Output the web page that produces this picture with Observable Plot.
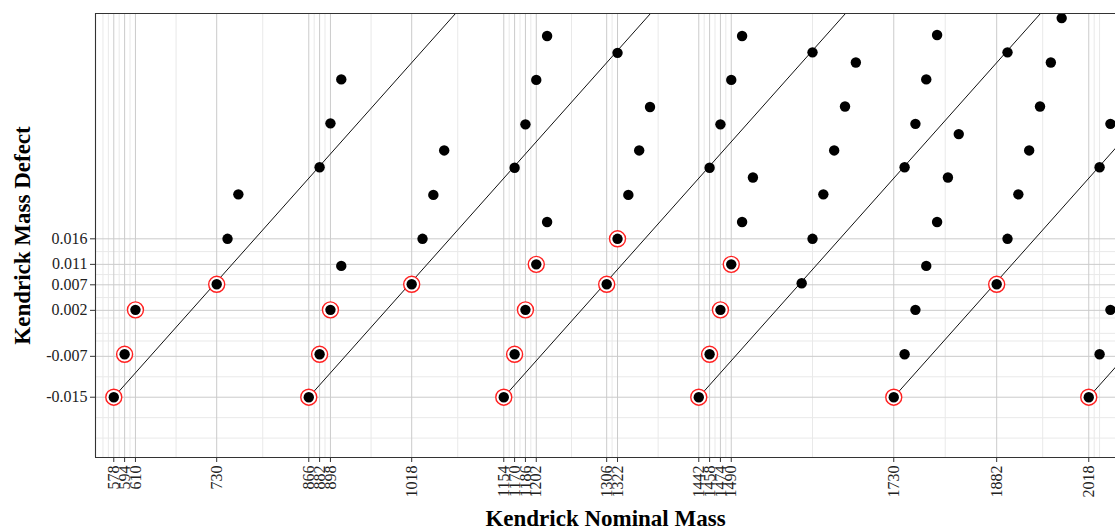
<!DOCTYPE html>
<html>
<head>
<meta charset="utf-8">
<script src="https://cdn.jsdelivr.net/npm/d3@7"></script>
<script src="https://cdn.jsdelivr.net/npm/@observablehq/plot@0.6"></script>
<style>
  html, body { margin: 0; padding: 0; background: #fff; }
  #chart svg { display: block; }
</style>
</head>
<body>
<div id="chart"></div>
<script>
// Highlighted (red-circled) compounds: nominal mass and Kendrick mass defect
const redMass = [578, 594, 610, 730, 866, 882, 898, 1018, 1154, 1170, 1186, 1202, 1306, 1322, 1442, 1458, 1474, 1490, 1730, 1882, 2018];
const redKmd  = [-0.015, -0.0066, 0.0021, 0.0071, -0.015, -0.0066, 0.0021, 0.0071, -0.015, -0.0066, 0.0021, 0.011, 0.0071, 0.016, -0.015, -0.0066, 0.0021, 0.011, -0.015, 0.0071, -0.015];

// Other compounds (black dots only)
const otherMass = [746, 762, 882, 898, 914, 914, 1034, 1050, 1066, 1170, 1186, 1202, 1218, 1218, 1322, 1338, 1354, 1370,
  1458, 1474, 1490, 1506, 1506, 1522, 1594, 1610, 1610, 1626, 1642, 1658, 1674, 1746, 1746, 1762, 1762, 1778, 1778,
  1794, 1794, 1810, 1826, 1898, 1898, 1914, 1930, 1946, 1962, 1978, 2034, 2034, 2050, 2050];
const otherKmd = [0.016, 0.0247, 0.030, 0.0386, 0.0472, 0.0107, 0.016, 0.0246, 0.0333, 0.0299, 0.0384, 0.0471, 0.0557, 0.0193, 0.0524, 0.0246, 0.0333, 0.0418,
  0.0299, 0.0384, 0.0471, 0.0557, 0.0193, 0.0280, 0.0073, 0.016, 0.0525, 0.0247, 0.0333, 0.0419, 0.0505, -0.0066, 0.0300, 0.0021, 0.0385, 0.0107, 0.0472,
  0.0193, 0.0559, 0.0280, 0.0365, 0.016, 0.0525, 0.0247, 0.0333, 0.0419, 0.0505, 0.0592, -0.0066, 0.0300, 0.0021, 0.0385];

// Homologous-series lines: starting nominal mass, starting KMD, slope (KMD per mass unit)
const lineStartMass = [578, 866, 1154, 1442, 1730, 2018];
const lineStartKmd = [-0.015, -0.015, -0.015, -0.015, -0.015, -0.015];
const lineSlope = 0.0001488;
const lineSpan = 700;

// Axis ticks
const xTicks = [578, 594, 610, 730, 866, 882, 898, 1018, 1154, 1170, 1186, 1202, 1306, 1322, 1442, 1458, 1474, 1490, 1730, 1882, 2018];
const yTicks = [-0.015, -0.007, 0.002, 0.007, 0.011, 0.016];
const yTickLabels = ["-0.015", "-0.007", "0.002", "0.007", "0.011", "0.016"];
const xMinor = [562, 570, 586, 602, 670, 798, 874, 890, 958, 1086, 1162, 1178, 1194, 1254, 1314, 1382, 1450, 1466, 1482, 1610, 1806, 1950, 2026, 2034];
const yMinor = [-0.023, -0.019, -0.011, -0.004, -0.0025, 0.0005, 0.0045, 0.009, 0.0135];

const xDomain = [551, 2057.5];
const yDomain = [-0.0268, 0.0601];

const red = redMass.map((m, i) => ({mass: m, kmd: redKmd[i]}));
const others = otherMass.map((m, i) => ({mass: m, kmd: otherKmd[i]}));
const allPts = red.concat(others);
const lines = lineStartMass.map((m, i) => ({
  x1: m, y1: lineStartKmd[i],
  x2: m + lineSpan, y2: lineStartKmd[i] + lineSpan * lineSlope
}));

const chart = Plot.plot({
  width: 1115,
  height: 531,
  marginLeft: 95,
  marginRight: 0,
  marginTop: 13,
  marginBottom: 74,
  style: {fontFamily: "'Liberation Serif', 'Times New Roman', serif", fontSize: "16px", color: "#222", background: "#fff"},
  x: {domain: xDomain, label: null},
  y: {domain: yDomain, label: null},
  marks: [
    Plot.ruleX(xMinor, {stroke: "#e9e9e9", strokeWidth: 1}),
    Plot.ruleY(yMinor, {stroke: "#e9e9e9", strokeWidth: 1}),
    Plot.ruleX(xTicks, {stroke: "#cbcbcb", strokeWidth: 1}),
    Plot.ruleY(yTicks, {stroke: "#cbcbcb", strokeWidth: 1}),
    Plot.link(lines, {x1: "x1", y1: "y1", x2: "x2", y2: "y2", stroke: "#111", strokeWidth: 1, clip: true}),
    Plot.dot(red, {x: "mass", y: "kmd", r: 8, fill: "white", stroke: "#ff2020", strokeWidth: 1.4, clip: true}),
    Plot.dot(allPts, {x: "mass", y: "kmd", r: 5.2, fill: "black", stroke: "none", clip: true}),
    Plot.axisX({ticks: xTicks, tickFormat: d => String(d), tickSize: 5, tickRotate: -90, tickPadding: 3, fontSize: 16, stroke: "#333", label: null}),
    Plot.axisY({ticks: yTicks, tickFormat: (d, i) => yTickLabels[i], tickSize: 5, tickPadding: 3, fontSize: 16, stroke: "#333", label: null}),
    Plot.ruleX([xDomain[0]], {stroke: "#333", strokeWidth: 1.1}),
    Plot.ruleY([yDomain[0]], {stroke: "#333", strokeWidth: 1.1}),
    Plot.ruleY([yDomain[1]], {stroke: "#333", strokeWidth: 1.1}),
    Plot.text(["Kendrick Nominal Mass"], {frameAnchor: "bottom", dy: 61, textAnchor: "middle", fontWeight: "bold", fontSize: 23, fill: "black", lineAnchor: "middle"}),
    Plot.text(["Kendrick Mass Defect"], {frameAnchor: "left", dx: -73, rotate: -90, textAnchor: "middle", fontWeight: "bold", fontSize: 23, fill: "black", lineAnchor: "middle"})
  ]
});
document.getElementById("chart").appendChild(chart);
</script>
</body>
</html>
